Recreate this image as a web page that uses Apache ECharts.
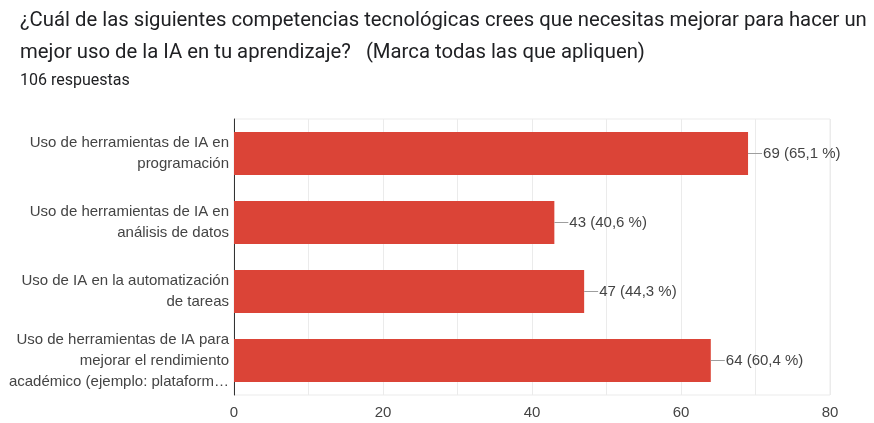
<!DOCTYPE html>
<html>
<head>
<meta charset="utf-8">
<script src="https://cdn.jsdelivr.net/npm/echarts@6/dist/echarts.min.js"></script>
<style>
html,body{margin:0;padding:0;background:#fff;}
#chart{width:874px;height:423px;}
</style>
</head>
<body>
<div id="chart"></div>
<script>
const titleText = '¿Cuál de las siguientes competencias tecnológicas crees que necesitas mejorar para hacer un\nmejor uso de la IA en tu aprendizaje?   (Marca todas las que apliquen)';
const subtitleText = '106 respuestas';
const categories = [
  'Uso de herramientas de IA en\nprogramación',
  'Uso de herramientas de IA en\nanálisis de datos',
  'Uso de IA en la automatización\nde tareas',
  'Uso de herramientas de IA para\nmejorar el rendimiento\nacadémico (ejemplo: plataform…'
];
const counts = [69, 43, 47, 64];
const percents = ['65,1', '40,6', '44,3', '60,4'];
const xTicks = [0, 20, 40, 60, 80];

const FONT = 'Liberation Sans, Arial, sans-serif';
const chart = echarts.init(document.getElementById('chart'), null, {renderer: 'canvas'});
chart.setOption({
  animation: false,
  backgroundColor: '#ffffff',
  title: [
    {
      text: titleText,
      left: 15, top: 0,
      textStyle: {fontFamily: 'Roboto', fontSize: 20.3, fontWeight: 'normal', color: '#202124', lineHeight: 32}
    },
    {
      text: subtitleText,
      left: 15, top: 68,
      textStyle: {fontFamily: 'Roboto', fontSize: 16, fontWeight: 'normal', color: '#202124'}
    }
  ],
  grid: {
    left: 234, right: 44, top: 119, bottom: 28,
    show: true, borderColor: '#ebebeb', borderWidth: 1
  },
  xAxis: {
    type: 'value', min: 0, max: 80, interval: 10,
    axisLine: {show: false}, axisTick: {show: false},
    splitLine: {lineStyle: {color: '#ebebeb'}},
    axisLabel: {
      fontFamily: FONT, fontSize: 15, color: '#444', margin: 10,
      formatter: v => xTicks.includes(v) ? String(v) : ''
    }
  },
  yAxis: {
    type: 'category', inverse: true, data: categories,
    axisLine: {lineStyle: {color: '#333', width: 1}},
    axisTick: {show: false},
    axisLabel: {fontFamily: FONT, fontSize: 15, color: '#444', margin: 5, lineHeight: 21, align: 'right'}
  },
  series: [{
    type: 'bar',
    data: counts,
    barWidth: '62%',
    itemStyle: {color: '#db4437'},
    label: {
      show: true, position: 'right', distance: 0,
      formatter: p => '{l|}{t|' + counts[p.dataIndex] + ' (' + percents[p.dataIndex] + ' %)}',
      rich: {
        l: {width: 14, height: 1, backgroundColor: '#9e9e9e'},
        t: {fontFamily: FONT, fontSize: 15, color: '#444', padding: [0, 0, 0, 1]}
      }
    }
  }]
});
</script>
</body>
</html>
